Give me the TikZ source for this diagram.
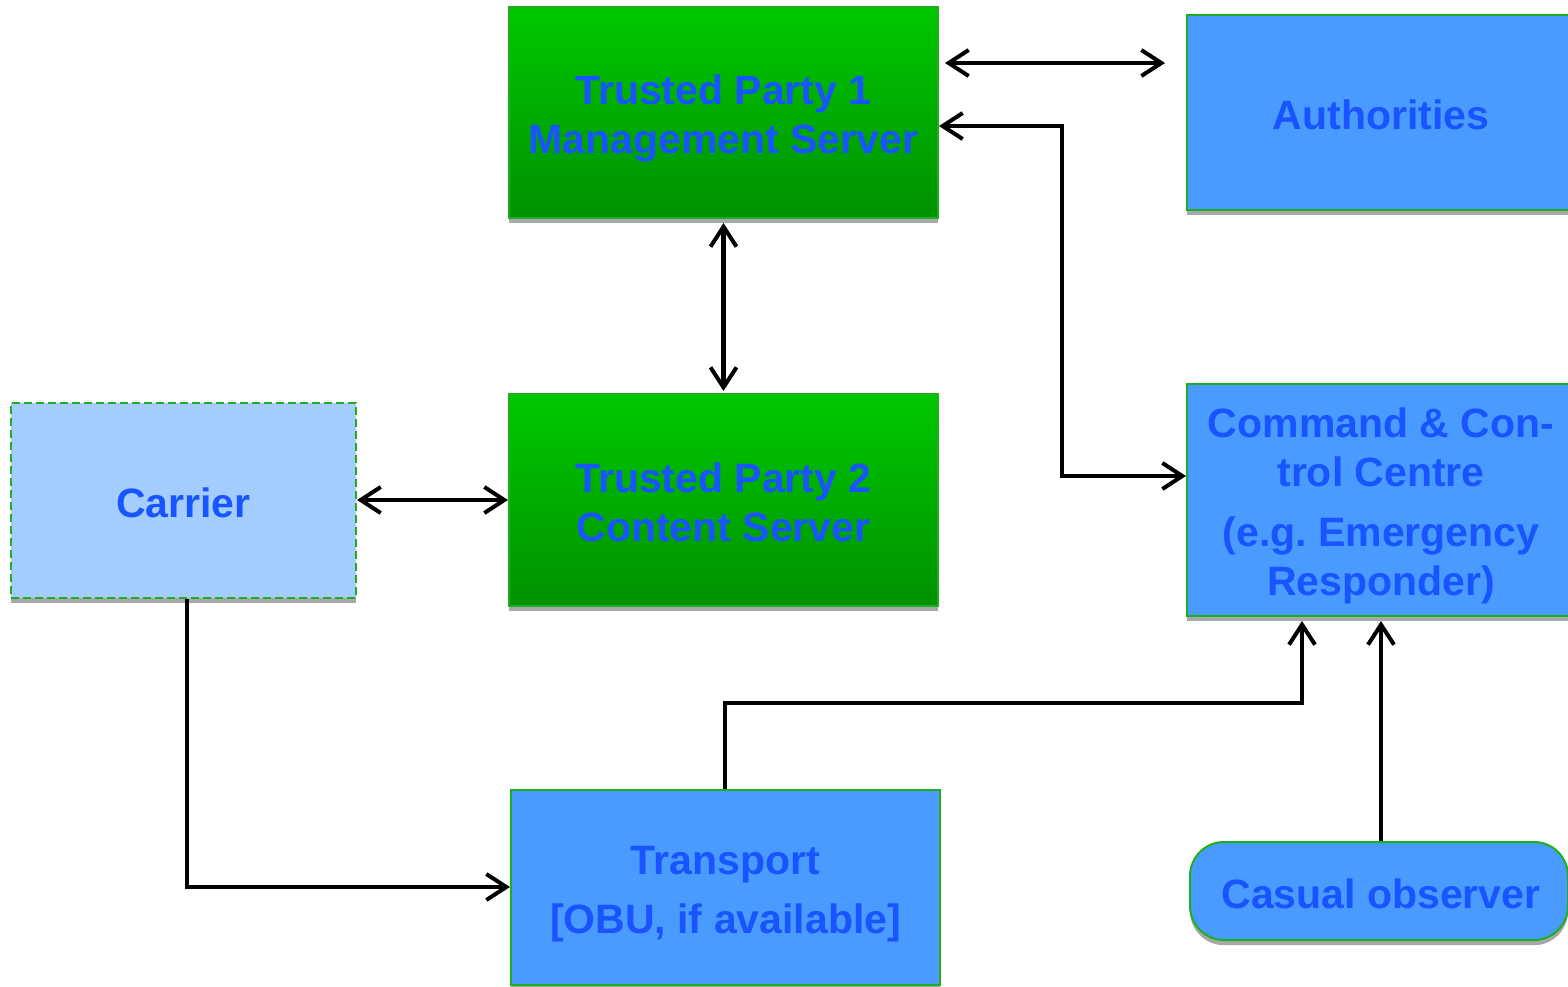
\documentclass[tikz,border=0pt]{standalone}
\usepackage{fontspec}
\setmainfont{Liberation Sans}
\usetikzlibrary{arrows.meta,shadows}
\frenchspacing
\definecolor{txtblue}{RGB}{24,84,255}
\definecolor{boxblue}{RGB}{74,155,255}
\definecolor{lightblue}{RGB}{164,205,255}
\definecolor{edgegreen}{RGB}{30,175,30}
\definecolor{greentop}{RGB}{0,200,0}
\definecolor{greenbot}{RGB}{0,145,0}
\definecolor{shadowgray}{RGB}{168,168,168}
\tikzset{
  base/.style={rectangle, draw=edgegreen, line width=1pt, inner sep=0pt,
    drop shadow={shadow xshift=0pt, shadow yshift=-2.6pt, fill=shadowgray, opacity=1}},
  txt/.style={text=txtblue, font=\bfseries\fontsize{20.5pt}{24.5pt}\selectfont,
    align=center, inner sep=0pt},
  greenbox/.style={base, top color=greentop, bottom color=greenbot},
  bluebox/.style={base, fill=boxblue},
  carrierbox/.style={base, fill=lightblue, dashed, dash pattern=on 4pt off 2pt},
  roundbox/.style={bluebox, rounded corners=17pt},
  conn/.style={line width=2.4pt, draw=black},
  tip/.style={conn, -{Straight Barb[length=10pt,width=13pt,line width=2pt]}},
  bitip/.style={conn, {Straight Barb[length=10pt,width=13pt,line width=2pt]}-{Straight Barb[length=10pt,width=13pt,line width=2pt]}}
}
\begin{document}
\begin{tikzpicture}[x=0.5pt,y=-0.5pt]
\useasboundingbox (0,0) rectangle (1568,986);
\clip (0,0) rectangle (1568,986);

% boxes
\node[greenbox, minimum width=214.5pt, minimum height=105.5pt] (tp1) at (723.5,112.5) {};
\node[bluebox, minimum width=194pt, minimum height=97.5pt] (auth) at (1381,112.5) {};
\node[greenbox, minimum width=214.5pt, minimum height=106pt] (tp2) at (723.5,500) {};
\node[carrierbox, minimum width=172.5pt, minimum height=97.5pt] (carrier) at (183.5,500.5) {};
\node[bluebox, minimum width=194pt, minimum height=116pt] (cmd) at (1381,500) {};
\node[bluebox, minimum width=214.5pt, minimum height=97.5pt] (trans) at (725.5,887.5) {};
\node[roundbox, minimum width=189pt, minimum height=49pt] (cas) at (1379,891) {};

% texts
\node[txt] (tp1t) at ([yshift=-3pt]tp1.center) {Trusted Party 1\\Management Server};
\node[txt] (autht) at ([yshift=-1pt]auth.center) {Authorities};
\node[txt] (tp2t) at ([yshift=-1pt]tp2.center) {Trusted Party 2\\Content Server};
\node[txt] (carriert) at ([yshift=-1pt]carrier.center) {Carrier};
\node[txt] (cmdt) at ([yshift=-3pt]cmd.center)
  {Command \& Con-\\trol Centre\\[5.5pt](e.g. Emergency\\Responder)};
\node[txt] (transt) at ([yshift=-3.5pt]trans.center) {Transport\\[5pt]{[OBU, if available]}};
\node[txt] (cast) at ([xshift=1pt,yshift=-1.5pt]cas.center) {Casual observer};

% connectors
\coordinate (a1) at (945,63);
\coordinate (a2) at (1165,63);
\draw[bitip] (a1) -- (a2);

\coordinate (b1) at (1062,126);
\coordinate (b2) at (1062,476);
\draw[bitip] (tp1.east |- b1) -- (b1) -- (b2) -- (cmd.west |- b2);

\draw[bitip, shorten <=2pt, shorten >=1pt] (tp1.south) -- (tp2.north);

\draw[bitip] (carrier.east |- 0,500) -- (tp2.west |- 0,500);

\coordinate (c1) at (187,887);
\draw[tip] (carrier.south -| c1) -- (c1) -- (trans.west |- c1);

\coordinate (d1) at (725,703);
\coordinate (d2) at (1302,703);
\draw[tip, shorten >=2pt] (trans.north -| d1) -- (d1) -- (d2) -- (cmd.south -| d2);

\draw[tip, shorten >=2pt] (cas.north -| 1381,0) -- (cmd.south -| 1381,0);
\end{tikzpicture}
\end{document}
